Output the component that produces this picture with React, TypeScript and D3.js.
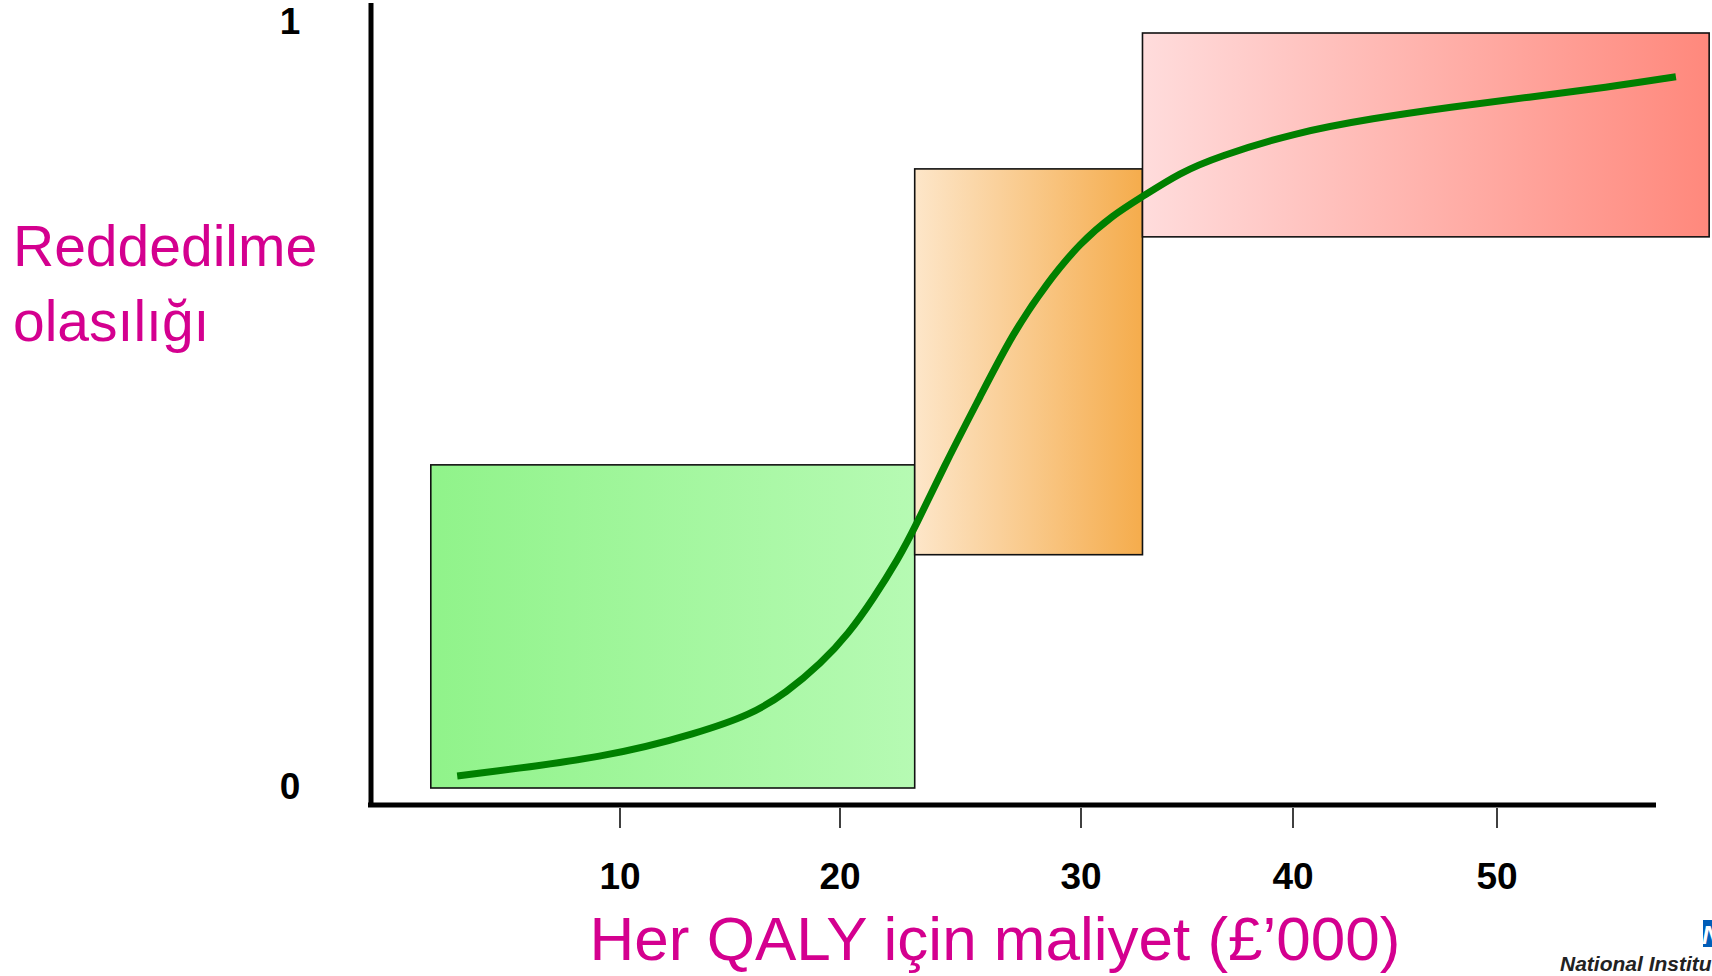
import React from "react";
import * as d3 from "d3";

// ---- data ----
const xTicks = [10, 20, 30, 40, 50];
const yTicks = [0, 1];
const xTitle = "Her QALY için maliyet (£’000)";
const yTitleLines = ["Reddedilme", "olasılığı"];

const boxNames = ["green", "orange", "red"];
const boxX0 = [1.4, 23.1, 32.9];
const boxX1 = [23.1, 32.9, 60.4];
const boxY0 = [0, 0.309, 0.73];
const boxY1 = [0.428, 0.82, 1.0];

const curveX = [2.6, 9.55, 13.55, 15.95, 17.55, 19.14, 20.37, 21.37, 22.41, 23.11, 24.44, 25.81, 27.18, 28.59, 29.96, 31.51, 32.88, 34.67, 36.42, 40.1, 43.92, 47.75, 51.57, 55.39, 58.77];
const curveY = [0.016, 0.041, 0.073, 0.097, 0.126, 0.165, 0.205, 0.25, 0.303, 0.345, 0.434, 0.518, 0.603, 0.669, 0.722, 0.759, 0.783, 0.815, 0.836, 0.868, 0.887, 0.902, 0.915, 0.928, 0.942];

const gradStops: Record<string, [string, string]> = {
  green: ["#90f38a", "#b6fab3"],
  orange: ["#fde6c9", "#f5ac4c"],
  red: ["#ffdcdc", "#ff887c"],
};

export default function App() {
  const W = 1712, H = 976;
  const axisLeft = 371, axisRight = 1656, axisBottom = 805, axisTop = 3;

  // hand-placed tick spacing on the slide -> polylinear scale
  const x = d3.scaleLinear().domain(xTicks).range([620, 840, 1081, 1293, 1497]);
  const y = d3.scaleLinear().domain([0, 1]).range([788, 33]);

  const pts: [number, number][] = curveX.map((v, i) => [v, curveY[i]]);
  const line = d3
    .line<[number, number]>()
    .x((d) => x(d[0]))
    .y((d) => y(d[1]))
    .curve(d3.curveBasis);

  const font = "'Liberation Sans', Arial, Helvetica, sans-serif";
  const magenta = "#d4008f";

  return (
    <svg
      width={W}
      height={H}
      style={{ position: "absolute", left: 0, top: 0, display: "block", background: "#fff" }}
      fontFamily={font}
    >
      <defs>
        {boxNames.map((n) => (
          <linearGradient key={n} id={`g-${n}`} x1="0" x2="1" y1="0" y2="0">
            <stop offset="0%" stopColor={gradStops[n][0]} />
            <stop offset="100%" stopColor={gradStops[n][1]} />
          </linearGradient>
        ))}
      </defs>
      <rect x={0} y={0} width={W} height={H} fill="#fff" />

      {/* boxes */}
      {boxNames.map((n, i) => (
        <rect
          key={n}
          x={x(boxX0[i])}
          y={y(boxY1[i])}
          width={x(boxX1[i]) - x(boxX0[i])}
          height={y(boxY0[i]) - y(boxY1[i])}
          fill={`url(#g-${n})`}
          stroke="#111"
          strokeWidth={1.6}
        />
      ))}

      {/* curve */}
      <path d={line(pts) || ""} fill="none" stroke="#008000" strokeWidth={7} strokeLinejoin="round" />

      {/* axes */}
      <line x1={axisLeft} x2={axisLeft} y1={axisTop} y2={axisBottom + 2} stroke="#000" strokeWidth={5} />
      <line x1={axisLeft - 3} x2={axisRight} y1={axisBottom} y2={axisBottom} stroke="#000" strokeWidth={5} />

      {/* x ticks */}
      {xTicks.map((t) => (
        <g key={t}>
          <line x1={x(t)} x2={x(t)} y1={axisBottom + 3} y2={axisBottom + 23} stroke="#000" strokeWidth={1.5} />
          <text x={x(t)} y={889} textAnchor="middle" fontSize={37} fontWeight="bold" fill="#000">
            {t}
          </text>
        </g>
      ))}

      {/* y ticks */}
      {yTicks.map((t) => (
        <text key={t} x={290} y={y(t) + (t === 0 ? 11 : 1)} textAnchor="middle" fontSize={37} fontWeight="bold" fill="#000">
          {t}
        </text>
      ))}

      {/* axis titles */}
      <text x={995} y={960} textAnchor="middle" fontSize={62} fill={magenta}>
        {xTitle}
      </text>
      {yTitleLines.map((l, i) => (
        <text key={l} x={13} y={266 + i * 75} fontSize={57} fill={magenta}>
          {l}
        </text>
      ))}

      {/* logo fragment */}
      <rect x={1703} y={920} width={12} height={27} fill="#005eb8" />
      <text x={1702} y={944} fontSize={26} fontWeight="bold" fontStyle="italic" fill="#fff">
        N
      </text>
      <text x={1560} y={971} fontSize={21} fontWeight="bold" fontStyle="italic" fill="#222">
        National Institute for Health and Clinical Excellence
      </text>
    </svg>
  );
}
